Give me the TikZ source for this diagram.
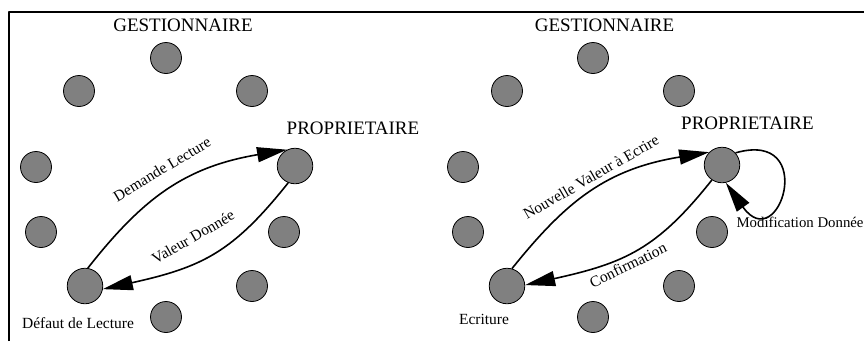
\documentclass[tikz,border=0pt]{standalone}
\usepackage{fontspec}
\setmainfont{Liberation Serif}
\usetikzlibrary{arrows.meta}
\tikzset{site/.style={circle,draw,fill=gray,line width=0.8pt,inner sep=0pt,minimum size=31pt},
  hub/.style={site,minimum size=35.5pt},
  flow/.style={line width=1.6pt,-{Triangle[length=30pt,width=15pt]}},
  role/.style={font=\fontsize{19}{23}\selectfont},
  tag/.style={font=\fontsize{15.5}{19}\selectfont}}

\begin{document}
\begin{tikzpicture}[x=1pt,y=-1pt,line join=round]
\useasboundingbox (0,0) rectangle (864,341);
\draw[line width=2pt] (9,341) -- (9,12) -- (864,12);
% --- read miss: request goes to the owner, value comes back
\begin{scope}
\foreach \p [count=\i] in {(166,58),(79,91),(252,91),(36,167),(41,232),(284,232),(252,286),(166,317)}
  \node[site] (gA\i) at \p {};
\node[hub] (propA) at (295,166) {}; \node[hub] (defA) at (85,286) {};
\node[role] (gestA) at (183,25.5) {GESTIONNAIRE};
\node[role] (ownA) at (353,128) {PROPRIETAIRE};
\node[tag] (defAtxt) at (78,323) {Défaut de Lecture};
\draw[flow] (defA.81) .. controls (143,198) and (185,167) .. (propA.116);
\draw[flow] (propA.248) .. controls (233,252) and (203,267) .. (defA.350);
\node[tag,rotate=31] (reqA) at (162,169) {Demande Lecture};
\node[tag,rotate=30] (valA) at (193,237) {Valeur Donnée};
\end{scope}
% --- write: new value to the owner, owner modifies and confirms
\begin{scope}[xshift=427pt]
\foreach \p [count=\i] in {(166,58),(80,91),(252,91),(36,167),(41,232),(285,232),(252,286),(166,317)}
  \node[site] (gB\i) at \p {};
\node[hub] (propB) at (295,165) {}; \node[hub] (ecrB) at (80,286) {};
\node[role] (gestB) at (177.5,25.5) {GESTIONNAIRE};
\node[role] (ownB) at (320.5,123) {PROPRIETAIRE};
\node[tag] (ecrBtxt) at (57,319) {Ecriture};
\draw[flow] (ecrB.74) .. controls (140,200) and (180,169) .. (propB.135);
\draw[flow] (propB.236) .. controls (230,249) and (198,263) .. (ecrB.3);
\draw[flow] (propB.42) .. controls (392,129) and (352,258) .. (propB.282);
\node[tag,rotate=30] (nvB) at (164,177) {Nouvelle Valeur à Ecrire};
\node[tag,rotate=26] (cfB) at (201,265) {Confirmation};
\node[tag,anchor=west,font=\fontsize{14.8}{18}\selectfont] (mdB) at (306,222) {Modification Donnée};
\end{scope}
\end{tikzpicture}
\end{document}
